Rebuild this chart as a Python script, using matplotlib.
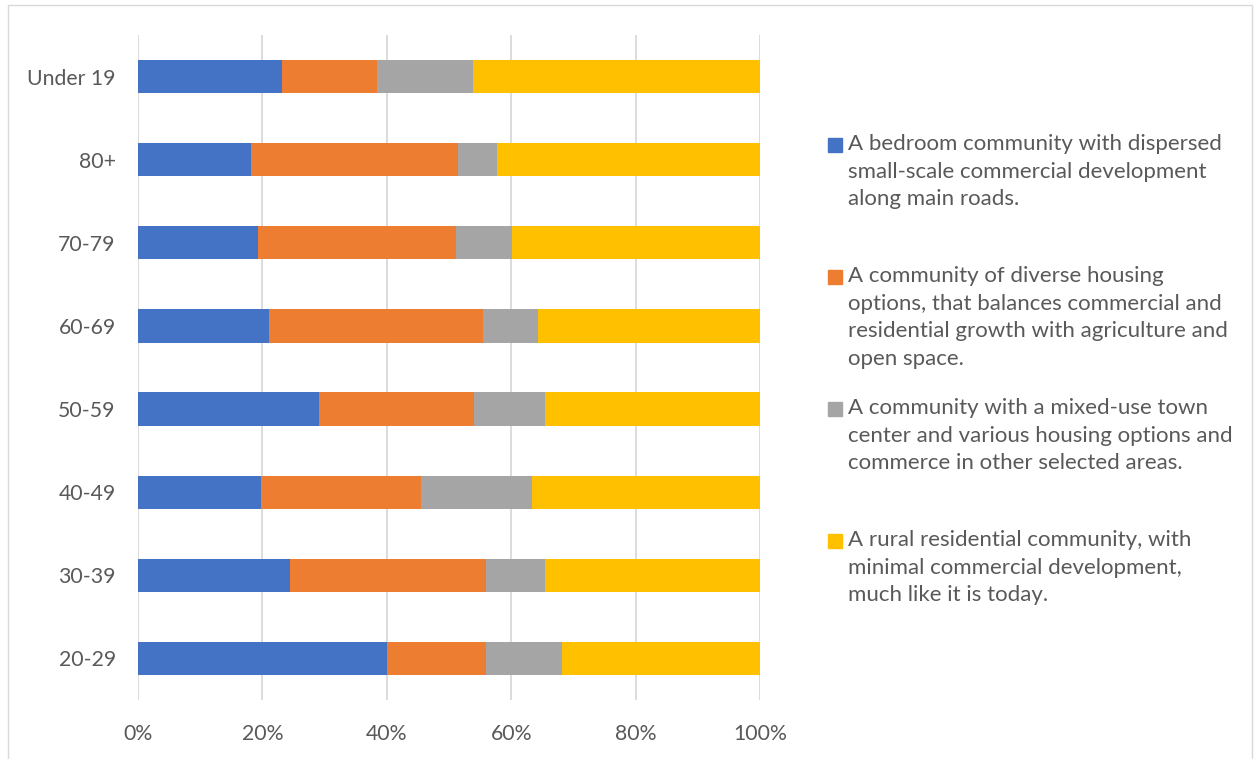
import matplotlib
matplotlib.use("Agg")
import matplotlib.pyplot as plt
from matplotlib.patches import Rectangle
from matplotlib.ticker import PercentFormatter

# age groups, top to bottom
groups = ["Under 19", "80+", "70-79", "60-69", "50-59", "40-49", "30-39", "20-29"]
bedroom = [23.2, 18.2, 19.3, 21.1, 29.1, 19.8, 24.4, 40.0]
diverse = [15.3, 33.3, 31.9, 34.3, 24.9, 25.7, 31.6, 16.0]
mixed = [15.3, 6.2, 8.9, 8.9, 11.5, 17.8, 9.4, 12.1]
rural = [46.2, 42.3, 39.9, 35.7, 34.5, 36.7, 34.6, 31.9]

labels = [
    "A bedroom community with dispersed\nsmall-scale commercial development\nalong main roads.",
    "A community of diverse housing\noptions, that balances commercial and\nresidential growth with agriculture and\nopen space.",
    "A community with a mixed-use town\ncenter and various housing options and\ncommerce in other selected areas.",
    "A rural residential community, with\nminimal commercial development,\nmuch like it is today.",
]
colors = ["#4472C4", "#ED7D31", "#A5A5A5", "#FFC000"]
txt = "#595959"

plt.rcParams["font.family"] = ["Lato", "DejaVu Sans"]

fig = plt.figure(figsize=(12.55, 7.59), dpi=100)
ax = fig.add_axes([138 / 1255, 1 - 700 / 759, (760 - 138) / 1255, (700 - 35) / 759])

series = [bedroom, diverse, mixed, rural]
left = [0.0] * len(groups)
y = list(range(len(groups)))
for vals, c in zip(series, colors):
    ax.barh(y, vals, left=left, height=0.4, color=c, zorder=3)
    left = [a + b for a, b in zip(left, vals)]

ax.set_ylim(len(groups) - 0.5, -0.5)
ax.set_xlim(0, 100)
ax.set_yticks(y)
ax.set_yticklabels(groups)
ax.set_xticks(range(0, 101, 20))
ax.xaxis.set_major_formatter(PercentFormatter(decimals=0))
ax.tick_params(axis="both", length=0, labelsize=15.3, colors=txt)
ax.tick_params(axis="y", pad=16)
ax.tick_params(axis="x", pad=17)
ax.grid(axis="x", color="#d9d9d9", lw=1.3, zorder=0)
for s in ax.spines.values():
    s.set_visible(False)

# legend drawn by hand, evenly spaced entries
for i, (lab, c) in enumerate(zip(labels, colors)):
    yc = 142 + i * 132
    fig.patches.append(Rectangle((828 / 1255, 1 - (yc + 10) / 759), 14 / 1255, 14 / 759,
                                 transform=fig.transFigure, color=c))
    fig.text(848 / 1255, 1 - (yc - 8) / 759, lab, ha="left", va="top",
             fontsize=16, color=txt, linespacing=1.48)

# chart border
fig.patches.append(Rectangle((8 / 1255, -0.01), 1244 / 1255, 1.01 - 5 / 759,
                             transform=fig.transFigure, fill=False,
                             edgecolor="#d9d9d9", lw=1))

fig.savefig("out.png", dpi=100)
